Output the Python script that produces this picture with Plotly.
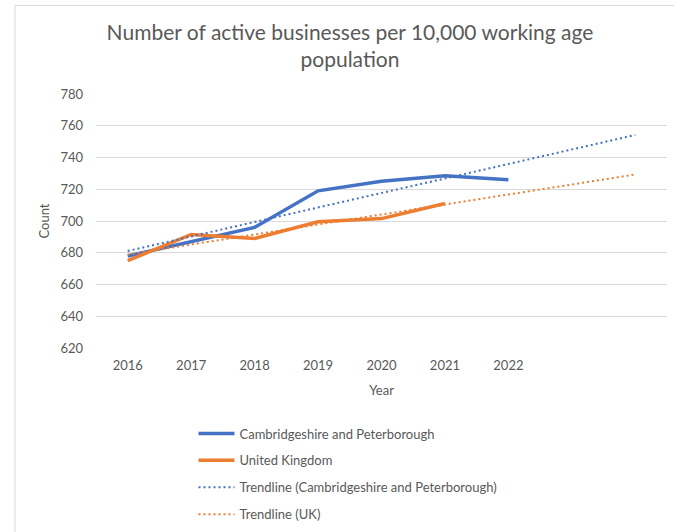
import plotly.graph_objects as go

years = ["2016", "2017", "2018", "2019", "2020", "2021", "2022"]
cambs = [678, 687, 696, 719, 725, 728.5, 726]
uk = [675, 691.5, 689, 699.5, 701.5, 711]
# linear trendlines (start 2016, forecast end two slots after 2022)
trend_cambs = [681.1, 754.2]
trend_uk = [678.9, 729.3]
y_ticks = [620, 640, 660, 680, 700, 720, 740, 760, 780]

BLUE = "#4472C4"
ORANGE = "#ED7D31"
GREY = "#595959"
FONT = "Lato"

xi = list(range(len(years)))
fig = go.Figure()
fig.add_trace(go.Scatter(x=xi, y=cambs, mode="lines", name="Cambridgeshire and Peterborough",
                         line=dict(color=BLUE, width=3.5), legendgroup="a"))
fig.add_trace(go.Scatter(x=xi[:len(uk)], y=uk, mode="lines", name="United Kingdom",
                         line=dict(color=ORANGE, width=3.5), legendgroup="b"))
fig.add_trace(go.Scatter(x=[0, 8], y=trend_cambs, mode="lines",
                         name="Trendline (Cambridgeshire and Peterborough)",
                         line=dict(color=BLUE, width=2, dash="2px,3px"), legendgroup="c"))
fig.add_trace(go.Scatter(x=[0, 8], y=trend_uk, mode="lines", name="Trendline (UK)",
                         line=dict(color=ORANGE, width=2, dash="2px,3px"), legendgroup="d"))

W, H = 674, 532
L, R, T, B = 96, 7, 94, 184
pw, ph = W - L - R, H - T - B

def px(xp):
    return (xp - L) / pw

def py(yp):
    return (H - B - yp) / ph

fig.update_layout(
    width=W, height=H,
    margin=dict(l=L, r=R, t=T, b=B, autoexpand=False),
    paper_bgcolor="white", plot_bgcolor="white",
    font=dict(family=FONT, color=GREY, size=13),
    title=dict(text="Number of active businesses per 10,000 working age<br>population",
               x=350 / W, xanchor="center", y=1 - 40 / H, yanchor="top",
               font=dict(size=21, color=GREY, family=FONT)),
    xaxis=dict(range=[-0.5, 8.5], tickvals=xi, ticktext=years, showgrid=False,
               zeroline=False, showline=False, ticks="", tickfont=dict(size=13),
               ticklabelstandoff=8, automargin=False,
               title=dict(text="Year", standoff=13, font=dict(size=13))),
    yaxis=dict(range=[620, 780], tickvals=y_ticks, showgrid=True, gridcolor="#D9D9D9",
               gridwidth=1, zeroline=False, showline=False, ticks="", ticklabelstandoff=12,
               tickfont=dict(size=13), automargin=False,
               title=dict(text="Count", standoff=7, font=dict(size=13))),
    showlegend=True,
    legend=dict(x=px(193.5), y=py(418.5), xanchor="left", yanchor="top", itemwidth=36,
                orientation="v", tracegroupgap=7, font=dict(size=13, color=GREY),
                bgcolor="rgba(0,0,0,0)"),
    shapes=[dict(type="rect", xref="paper", yref="paper",
                 x0=px(15), x1=px(700), y0=py(560), y1=py(5.5),
                 line=dict(color="#D9D9D9", width=1), fillcolor="rgba(0,0,0,0)",
                 layer="below")],
)

fig.write_html("out.html", config={"displayModeBar": False},
               post_script="document.body.style.margin='0';")
